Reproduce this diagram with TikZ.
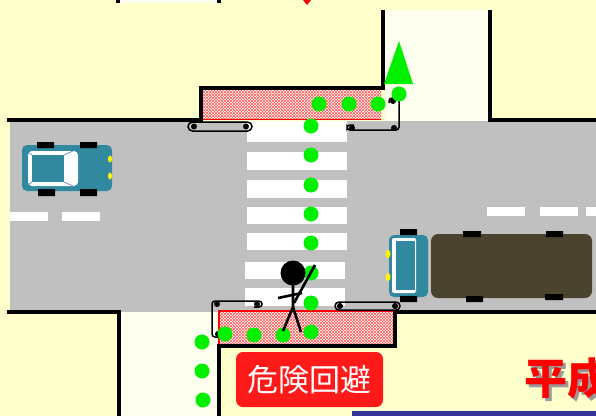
\documentclass[tikz,border=0pt]{standalone}
\usepackage{fontspec}
\newfontfamily\jpfont{Noto Sans CJK JP}
\usetikzlibrary{patterns}

\definecolor{fieldyellow}{HTML}{FFFFCC}
\definecolor{walkwhite}{HTML}{FFFFF0}
\definecolor{roadgray}{HTML}{C0C0C0}
\definecolor{bodyteal}{HTML}{3189A0}
\definecolor{cargobrown}{HTML}{4A442E}
\definecolor{pathgreen}{HTML}{00F000}
\definecolor{signred}{HTML}{FF1A1A}
\definecolor{barblue}{HTML}{333399}
\definecolor{glassline}{HTML}{4A7CC8}

\begin{document}
\begin{tikzpicture}[
  x=1pt, y=-1pt,
  edge/.style={draw=black, line width=4.5pt},
  zebra/.style={fill=white},
  hatchzone/.style={pattern=north east lines, pattern color=red!65},
  hatchzonetwo/.style={pattern=north west lines, pattern color=red!65},
  guard/.style={draw=black, line width=1.5pt, rounded corners=3pt},
  post/.style={fill=black},
  wheel/.style={fill=black},
  lamp/.style={fill=yellow},
  walkdot/.style={fill=pathgreen},
  limb/.style={draw=black, line width=2.6pt},
  signbox/.style={fill=signred, rounded corners=7pt, minimum width=147pt,
    minimum height=55pt, inner sep=0pt, text=white,
    font=\jpfont\fontsize{31}{31}\selectfont}
]
\path[use as bounding box, clip] (0,0) rectangle (596,416);

% ground, sidewalks, road
\fill[fieldyellow] (0,0) rectangle (596,416);
\fill[walkwhite] (118,0) rectangle (220,3);
\fill[walkwhite] (385,10) rectangle (488,121);
\fill[walkwhite] (119,312) rectangle (219,416);
\fill[roadgray] (10,121) rectangle (596,312);

% lane marks
\foreach \xa/\xb/\ya/\yb in {10/48/212/221, 62/100/212/221,
    487/525/207/216, 540/578/207/216, 586/600/207/216}
  \fill[zebra] (\xa,\ya) rectangle (\xb,\yb);

% crossing
\foreach \ya/\yb/\xa in {121/142/247, 152/170/247, 180/198/247,
    207/224/247, 233/250/247, 262/279/245, 288/306/245}
  \fill[zebra] (\xa,\ya) rectangle (\xa+100,\yb);

% waiting zones
\fill[white] (203,90) rectangle (381,119);
\fill[hatchzone] (203,90) rectangle (381,119);
\fill[hatchzonetwo] (203,90) rectangle (381,119);
\draw[red, line width=1.2pt] (203,119.5) -- (381,119.5);
\fill[white] (219,311) rectangle (393,345);
\fill[hatchzone] (219,311) rectangle (393,345);
\fill[hatchzonetwo] (219,311) rectangle (393,345);
\draw[red, line width=1.2pt] (219,345) -- (219,311) -- (393,311);

% curbs
\draw[edge] (7,120) -- (201,120) -- (201,88) -- (383,88) -- (383,10);
\draw[edge] (490,10) -- (490,120) -- (596,120);
\draw[edge] (7,312) -- (119,312) -- (119,416);
\draw[edge] (219,416) -- (219,346) -- (395,346) -- (395,312) -- (596,312);
\draw[edge] (118,0) -- (118,3);
\draw[edge] (219,0) -- (219,3);

% guard rails
\draw[guard, rounded corners=4.5pt] (188,122) rectangle (252,131);
\fill[post] (194,126.5) circle[radius=3pt] (246,126.5) circle[radius=3pt];
\draw[guard] (354,125) -- (347,125) -- (347,130) -- (399,130) -- (399,98)
  -- (389,98) -- (389,103);
\fill[post] (352,128) circle[radius=3pt] (394,128) circle[radius=3pt]
  (393,101) circle[radius=3pt];
\draw[guard] (254,307) -- (262,307) -- (262,301) -- (212,301) -- (212,337)
  -- (220,337);
\fill[post] (257,304) circle[radius=3pt] (217,304) circle[radius=3pt]
  (218,334) circle[radius=3pt];
\draw[guard, rounded corners=4pt] (335,302) rectangle (400,310);
\fill[post] (340,306) circle[radius=3pt] (395,306) circle[radius=3pt];

% car
\fill[bodyteal, rounded corners=5pt] (22,145) rectangle (112,191);
\fill[wheel] (37,142) rectangle (54,148) (80,142) rectangle (97,148)
  (38,189) rectangle (55,196) (80,189) rectangle (97,196);
\fill[white, rounded corners=4pt] (28,151) rectangle (78,186);
\fill[bodyteal] (32,155) rectangle (64,182);
\draw[glassline, line width=0.6pt] (32,155) -- (28,152) (64,155) -- (73,151)
  (64,182) -- (73,186) (32,182) -- (28,185);
\fill[lamp] (110,159) ellipse[x radius=2pt, y radius=3.5pt]
  (110,176) ellipse[x radius=2pt, y radius=3.5pt];

% truck
\fill[bodyteal, rounded corners=5pt] (389,235) rectangle (428,297);
\fill[wheel] (400,229) rectangle (417,235) (400,296) rectangle (417,302);
\fill[white, rounded corners=2pt] (392,238) rectangle (416,293);
\fill[bodyteal] (396,241) rectangle (415,290);
\draw[glassline, line width=0.6pt] (396,241) -- (405,247) (396,290) -- (405,284);
\fill[lamp] (388,254) ellipse[x radius=2.5pt, y radius=4pt]
  (388,277) ellipse[x radius=2.5pt, y radius=4pt];
\fill[cargobrown, rounded corners=7pt] (431,234) rectangle (592,298);
\fill[wheel] (463,231) rectangle (481,237) (546,231) rectangle (563,237)
  (466,296) rectangle (483,302) (545,294) rectangle (563,300);

% route
\foreach \px/\py in {319/104, 349/104, 378/104, 399/94,
    311/126, 311/155, 311/185, 311/214, 311/243, 311/273, 311/303, 311/332,
    225/334, 254/335, 283/335, 202/342, 202/371, 203/400}
  \fill[walkdot] (\px,\py) circle[radius=7.5pt];
\fill[pathgreen] (399,41) -- (384,84) -- (413,84) -- cycle;
\fill[red] (303,0) -- (311,0) -- (307,5) -- cycle;

% pedestrian
\fill[black] (293,273) circle[radius=12.5pt];
\draw[limb] (293,283) -- (293,307) -- (283,331);
\draw[limb] (293,307) -- (301,332);
\draw[limb] (278,298) -- (302,293);
\draw[limb] (315,265) -- (294,303);

% captions
\node[signbox] (sign) at (309.5,379.5) {危険回避};
\node[anchor=west, text=black!40, font=\jpfont\bfseries\fontsize{43}{43}\selectfont]
  (eraShadow) at (524,381) {平成};
\node[anchor=west, text=red, font=\jpfont\bfseries\fontsize{43}{43}\selectfont]
  (era) at (521,378) {平成};
\fill[barblue] (352,411) rectangle (596,416);
\end{tikzpicture}
\end{document}
